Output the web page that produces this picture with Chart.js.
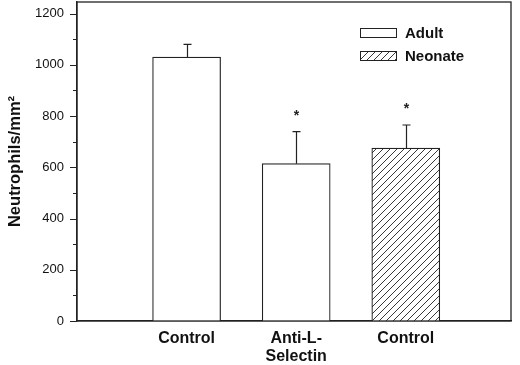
<!DOCTYPE html>
<html>
<head>
<meta charset="utf-8">
<script src="https://cdn.jsdelivr.net/npm/chart.js@4.4.1/dist/chart.umd.min.js"></script>
<style>
html,body{margin:0;padding:0;background:#fff;}
#wrap{width:520px;height:365px;position:relative;}
</style>
</head>
<body>
<div id="wrap"><canvas id="c" width="520" height="365"></canvas></div>
<script>
// ---- data ----
const categories = ['Control', ['Anti-L-', 'Selectin'], 'Control'];
const groupNames = ['Adult', 'Neonate'];
const adultValues = [1030, 614, null];
const neonateValues = [null, null, 675];
const errors = [50, 125, 90];
const significant = [false, true, true];
const yTicks = [0, 200, 400, 600, 800, 1000, 1200];
const yMinorTicks = [100, 300, 500, 700, 900, 1100];
const yTitle = 'Neutrophils/mm\u00B2';

function hatch() {
  const c = document.createElement('canvas');
  c.width = 7; c.height = 7;
  const g = c.getContext('2d');
  g.fillStyle = '#fff'; g.fillRect(0, 0, 7, 7);
  g.strokeStyle = '#222'; g.lineWidth = 0.9;
  g.beginPath();
  g.moveTo(-1, 8); g.lineTo(8, -1);
  g.moveTo(-1, 1); g.lineTo(1, -1);
  g.moveTo(6, 8); g.lineTo(8, 6);
  g.stroke();
  return g.createPattern(c, 'repeat');
}
const hatchPattern = hatch();

const positions = categories.map((_, i) => i + 1);
const toPts = arr => arr.map((v, i) => v == null ? null : {x: positions[i], y: v}).filter(p => p);
const allValues = categories.map((_, i) => adultValues[i] != null ? adultValues[i] : neonateValues[i]);

const decor = {
  id: 'decor',
  afterDatasetsDraw(chart) {
    const {ctx, chartArea: a, scales: {x, y}} = chart;
    ctx.save();
    // frame
    ctx.strokeStyle = '#222'; ctx.lineWidth = 1.3;
    ctx.strokeRect(a.left, a.top, a.right - a.left, a.bottom - a.top);
    // y ticks
    ctx.lineWidth = 1.2;
    ctx.beginPath();
    yTicks.forEach(v => { const py = Math.round(y.getPixelForValue(v)) + 0.5; ctx.moveTo(a.left - 7, py); ctx.lineTo(a.left, py); });
    yMinorTicks.forEach(v => { const py = Math.round(y.getPixelForValue(v)) + 0.5; ctx.moveTo(a.left - 4, py); ctx.lineTo(a.left, py); });
    ctx.stroke();
    // error bars + stars
    ctx.lineWidth = 1.2;
    allValues.forEach((v, i) => {
      const px = Math.round(x.getPixelForValue(positions[i])) + 0.5;
      const top = y.getPixelForValue(v + errors[i]);
      const base = y.getPixelForValue(v);
      ctx.beginPath();
      ctx.moveTo(px, base); ctx.lineTo(px, top);
      ctx.moveTo(px - 4, top); ctx.lineTo(px + 4, top);
      ctx.stroke();
      if (significant[i]) {
        ctx.fillStyle = '#222';
        ctx.font = 'bold 14px "Liberation Sans", Arial, sans-serif';
        ctx.textAlign = 'center'; ctx.textBaseline = 'alphabetic';
        ctx.fillText('*', px, top - 12);
      }
    });
    // legend
    const lx = 360, ly = [28, 51], bw = 36, bh = 9;
    chart.data.datasets.forEach((ds, i) => {
      ctx.fillStyle = ds.backgroundColor;
      ctx.fillRect(lx, ly[i], bw, bh);
      ctx.strokeStyle = '#222'; ctx.lineWidth = 1;
      ctx.strokeRect(lx + 0.5, ly[i] + 0.5, bw, bh);
      ctx.fillStyle = '#111';
      ctx.font = 'bold 15px "Liberation Sans", Arial, sans-serif';
      ctx.textAlign = 'left'; ctx.textBaseline = 'middle';
      ctx.fillText(ds.label, lx + bw + 9, ly[i] + bh / 2 + 1);
    });
    ctx.restore();
  }
};

new Chart(document.getElementById('c'), {
  type: 'bar',
  data: {
    datasets: [
      {label: groupNames[0], data: toPts(adultValues), backgroundColor: '#fff', borderColor: '#222', borderWidth: 1.2, barThickness: 68, grouped: false},
      {label: groupNames[1], data: toPts(neonateValues), backgroundColor: hatchPattern, borderColor: '#222', borderWidth: 1.2, barThickness: 68, grouped: false}
    ]
  },
  options: {
    responsive: false,
    animation: false,
    layout: {padding: {top: 2, right: 9, left: 0, bottom: 0}},
    plugins: {legend: {display: false}, tooltip: {enabled: false}},
    scales: {
      x: {
        type: 'linear', min: 0, max: 3.96, offset: false,
        afterBuildTicks: s => { s.ticks = positions.map(v => ({value: v})); },
        afterFit: s => { s.height = 44; s.paddingLeft = 0; s.paddingRight = 0; },
        grid: {display: false, drawTicks: false, offset: false},
        border: {display: true, color: '#222', width: 1.3},
        ticks: {
          autoSkip: false, maxRotation: 0, padding: 9,
          color: '#111', font: {family: '"Liberation Sans", Arial, sans-serif', size: 16, weight: 'bold', lineHeight: 1.1},
          callback: v => categories[positions.indexOf(v)]
        }
      },
      y: {
        min: 0, max: 1245,
        afterBuildTicks: s => { s.ticks = yTicks.map(v => ({value: v})); },
        afterFit: s => { s.width = 77; s.paddingTop = 0; s.paddingBottom = 0; },
        grid: {display: false, drawTicks: false},
        border: {display: true, color: '#222', width: 1.3},
        ticks: {padding: 13, color: '#111', font: {family: '"Liberation Sans", Arial, sans-serif', size: 13},
          callback: v => String(v)},
        title: {display: true, text: yTitle, color: '#111', padding: {top: 6, bottom: 0},
          font: {family: '"Liberation Sans", Arial, sans-serif', size: 16.5, weight: 'bold'}}
      }
    }
  },
  plugins: [decor]
});
</script>
</body>
</html>
